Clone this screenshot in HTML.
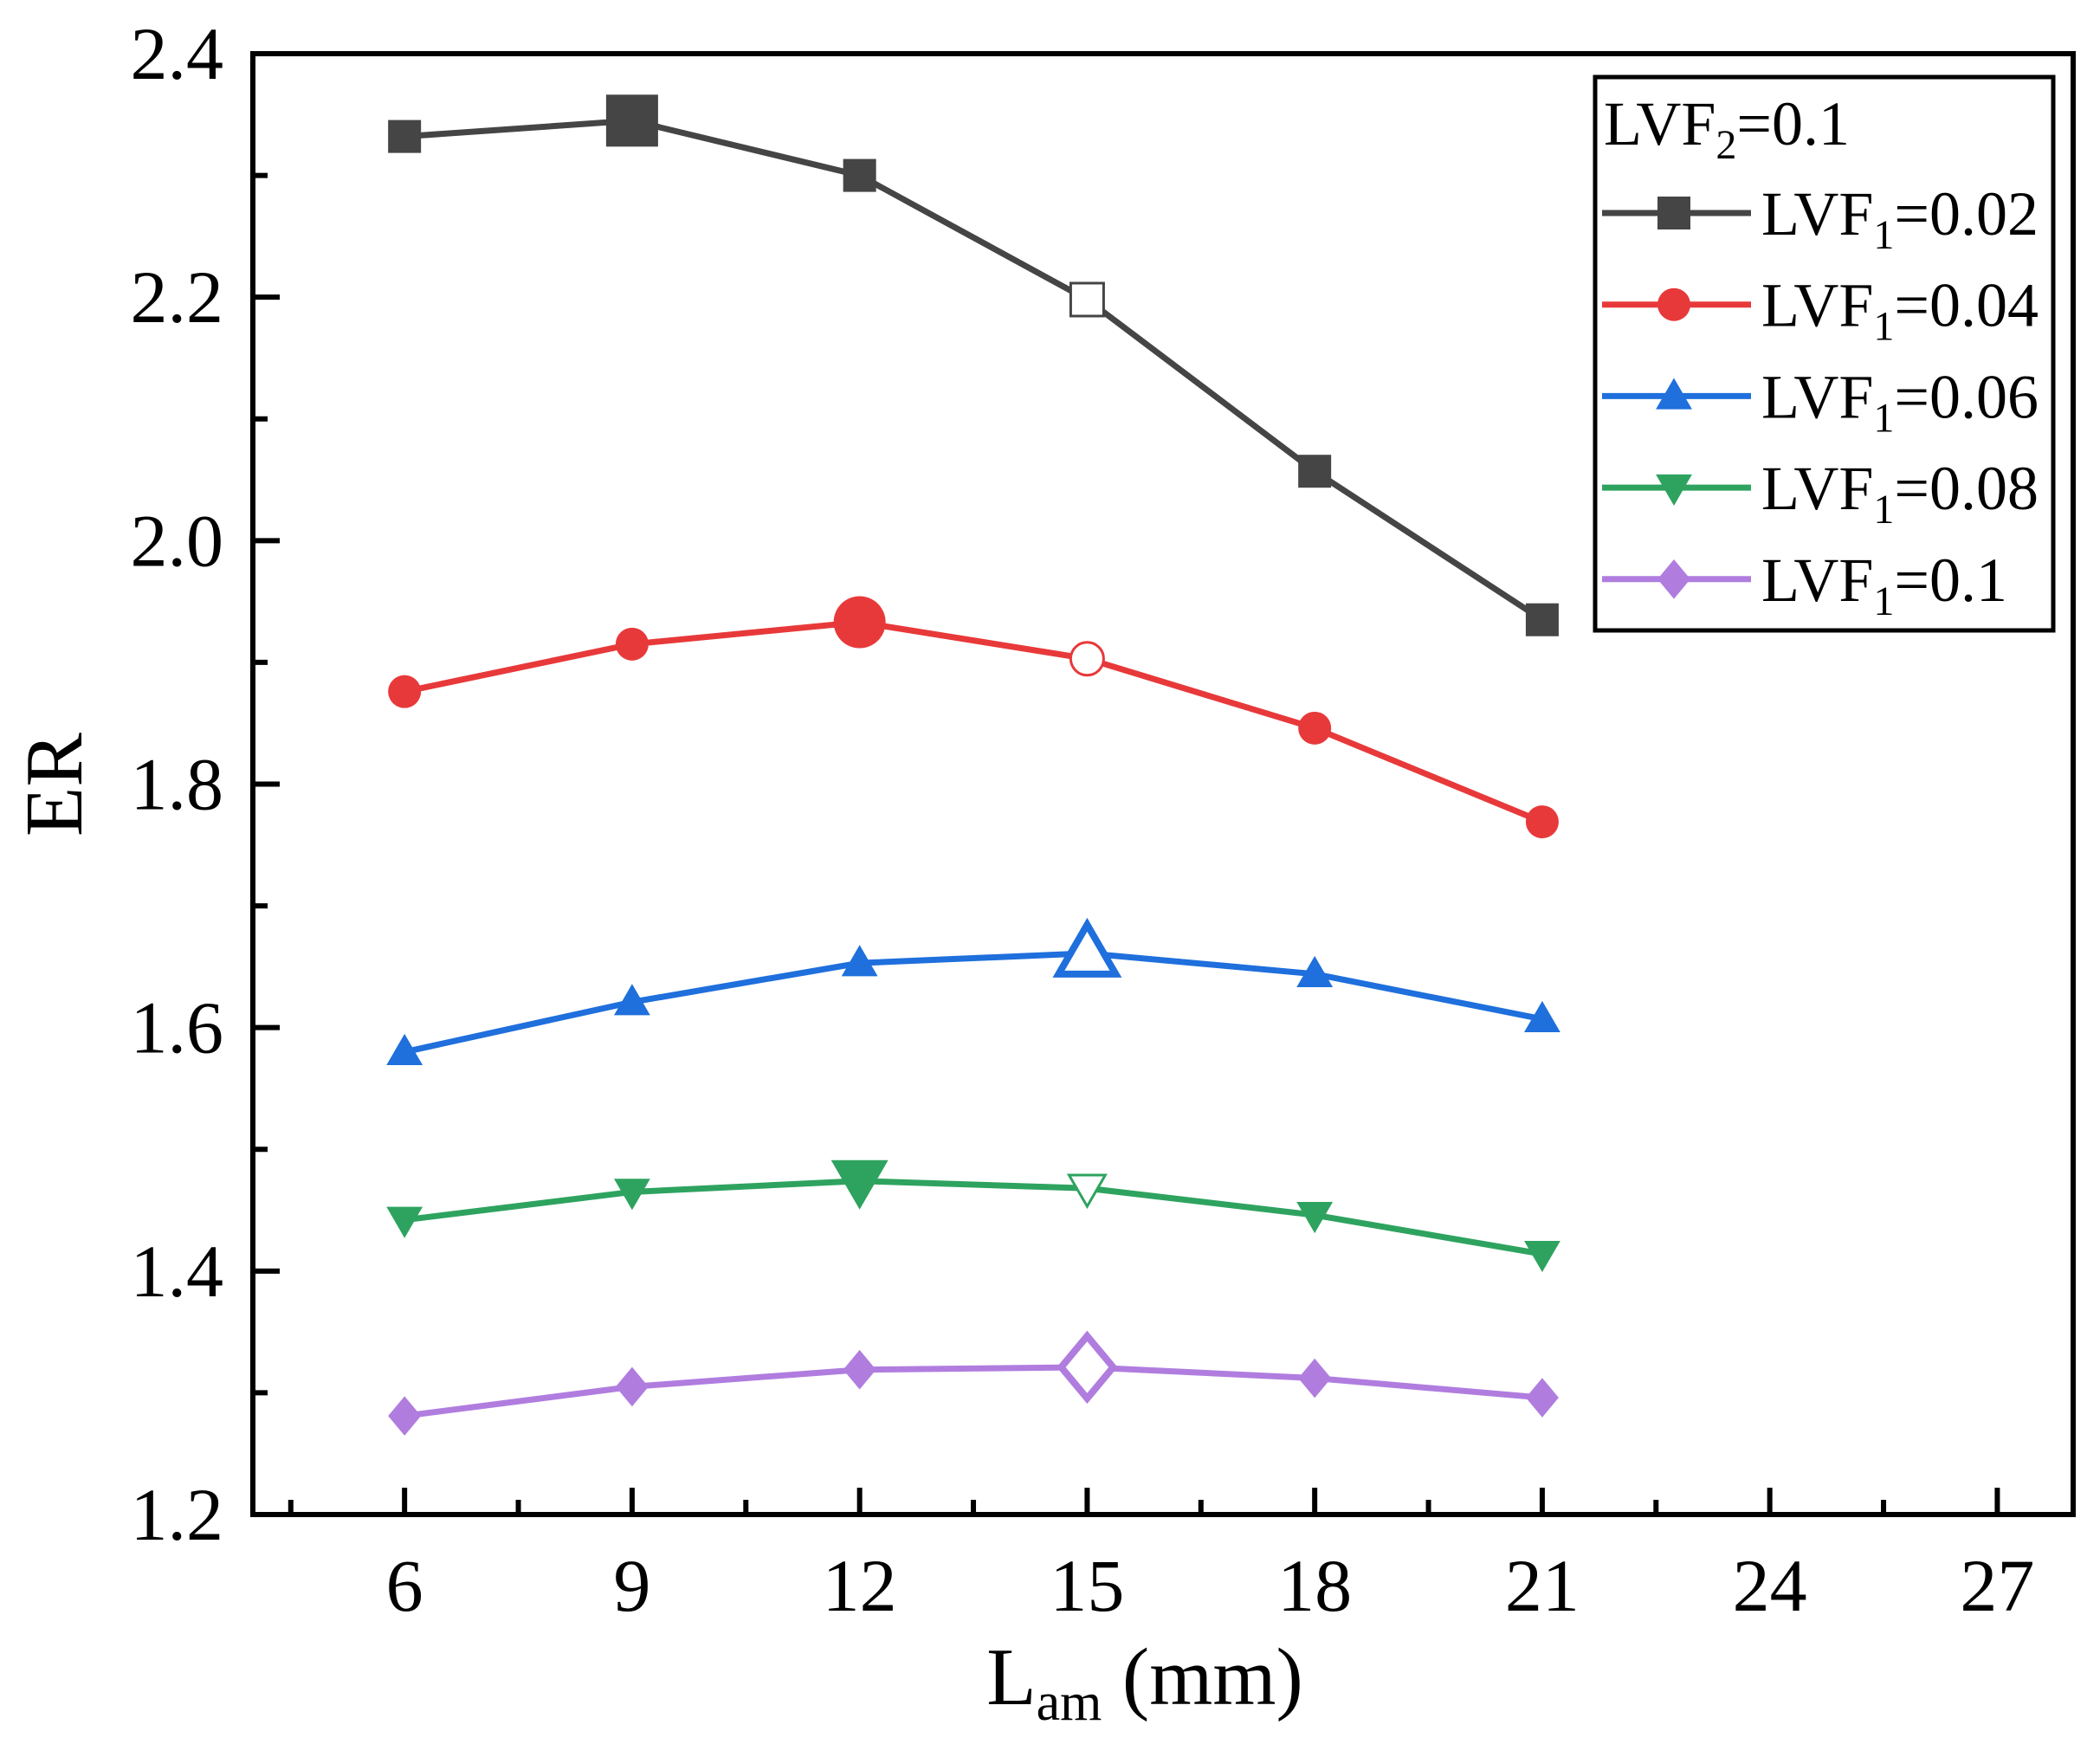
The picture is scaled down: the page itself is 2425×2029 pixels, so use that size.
<!DOCTYPE html>
<html><head><meta charset="utf-8"><style>html,body{margin:0;padding:0;background:#fff}svg{display:block}text{font-family:"Liberation Serif",serif;fill:#000}</style></head>
<body>
<svg id="chart" width="2425" height="2029" viewBox="0 0 2425 2029" xmlns="http://www.w3.org/2000/svg"></svg>
<script>
const xCats = [6, 9, 12, 15, 18, 21];
const xTicks = [6, 9, 12, 15, 18, 21, 24, 27];
const yTicks = [1.2, 1.4, 1.6, 1.8, 2.0, 2.2, 2.4];
const s002 = [2.332, 2.345, 2.300, 2.198, 2.057, 1.935];
const s004 = [1.876, 1.915, 1.933, 1.903, 1.846, 1.769];
const s006 = [1.580, 1.621, 1.653, 1.661, 1.644, 1.607];
const s008 = [1.442, 1.465, 1.474, 1.468, 1.446, 1.414];
const s010 = [1.281, 1.305, 1.319, 1.321, 1.312, 1.296];
const seriesLabels = ["0.02", "0.04", "0.06", "0.08", "0.1"];

const L=292,R=2394,T=62,B=1749,X0=4,X1=28,Y0=1.2,Y1=2.4;
const xs=v=>L+(v-X0)/(X1-X0)*(R-L);
const ys=v=>B-(v-Y0)/(Y1-Y0)*(B-T);
const svg=document.getElementById('chart');
const NS='http://www.w3.org/2000/svg';
function mk(tag,attrs,parent){const e=document.createElementNS(NS,tag);for(const k in attrs)e.setAttribute(k,attrs[k]);(parent||svg).appendChild(e);return e;}

const series=[
 [s002,'#454545','square',1,false,3],
 [s004,'#e8393a','circle',2,false,3],
 [s006,'#1f6fdc','up',3,true,-1],
 [s008,'#2ea35f','down',2,false,3],
 [s010,'#b07ddf','diamond',3,true,-1]
];
function marker(shape,cx,cy,sz,color,hollow,parent){
  const fill=hollow?'#fff':color, sw=hollow?(sz>45?8:3):0;
  const h=sz/2;let e;
  if(shape==='square') e=mk('rect',{x:cx-h,y:cy-h,width:sz,height:sz},parent);
  else if(shape==='circle') e=mk('circle',{cx:cx,cy:cy,r:h},parent);
  else if(shape==='up') e=mk('polygon',{points:`${cx},${cy-h*1.1} ${cx+h*1.1},${cy+h*0.8} ${cx-h*1.1},${cy+h*0.8}`},parent);
  else if(shape==='down') e=mk('polygon',{points:`${cx},${cy+h*1.1} ${cx+h*1.1},${cy-h*0.8} ${cx-h*1.1},${cy-h*0.8}`},parent);
  else e=mk('polygon',{points:`${cx},${cy-h*1.2} ${cx+h*1.0},${cy} ${cx},${cy+h*1.2} ${cx-h*1.0},${cy}`},parent);
  e.setAttribute('fill',fill);e.setAttribute('stroke',color);e.setAttribute('stroke-width',sw);
  return e;
}

const frame=mk('rect',{x:L,y:T,width:R-L,height:B-T,fill:'none',stroke:'#000','stroke-width':6});



xTicks.forEach(v=>{
  const t=mk('line',{x1:xs(v),x2:xs(v),y1:B,y2:B-31,stroke:'#000','stroke-width':6});
  
  
  const m=mk('line',{x1:xs(v-1.5),x2:xs(v-1.5),y1:B,y2:B-17,stroke:'#000','stroke-width':6});
  
  
  const lb=mk('text',{x:xs(v),y:1860,'text-anchor':'middle','font-size':86});
  lb.textContent=v;
  
  
});
yTicks.forEach((v,i)=>{
  const t=mk('line',{x1:L,x2:L+31,y1:ys(v),y2:ys(v),stroke:'#000','stroke-width':6});
  
  
  if(i<yTicks.length-1){const m=mk('line',{x1:L,x2:L+17,y1:ys(v+0.1),y2:ys(v+0.1),stroke:'#000','stroke-width':6});
  
  }
  const lb=mk('text',{x:258,y:ys(v)+29,'text-anchor':'end','font-size':86});
  lb.textContent=v.toFixed(1);
  
  
});
const xt=mk('text',{x:1322,y:1968,'text-anchor':'middle','font-size':94});
xt.innerHTML='L<tspan font-size="62" dy="18">am</tspan><tspan dy="-18"> (mm)</tspan>';


const yt=mk('text',{x:0,y:0,'text-anchor':'middle','font-size':94,transform:'translate(94,906) rotate(-90)'});
yt.textContent='ER';



series.forEach((sr,si)=>{
  const [d,c,shape,bi,bh,hi]=sr;
  const g=mk('g',{});
  
  
  const pl=mk('polyline',{points:d.map((v,i)=>xs(xCats[i])+','+ys(v)).join(' '),fill:'none',stroke:c,'stroke-width':7},g);
  
  
  d.forEach((v,i)=>{
    const big=i===bi;
    const m=marker(shape,xs(xCats[i]),ys(v),big?60:38,c,big?bh:(i===hi),g);
    
    
  });
});

const lg=mk('g',{});


const lb=mk('rect',{x:1842,y:89,width:529,height:639,fill:'#fff',stroke:'#000','stroke-width':5},lg);


const hd=mk('text',{x:1852,y:167,'font-size':72},lg);
hd.innerHTML='LVF<tspan font-size="48" dy="16">2</tspan><tspan dy="-16">=0.1</tspan>';


series.forEach((sr,i)=>{
  const y=246+i*105.7;
  const eg=mk('g',{},lg);
  
  
  mk('line',{x1:1850,x2:2022,y1:y,y2:y,stroke:sr[1],'stroke-width':7},eg);
  marker(sr[2],1933,y,38,sr[1],false,eg);
  const t=mk('text',{x:2034,y:y+25,'font-size':72},eg);
  t.innerHTML='LVF<tspan font-size="48" dy="16">1</tspan><tspan dy="-16">='+seriesLabels[i]+'</tspan>';
});
</script>
</body></html>
